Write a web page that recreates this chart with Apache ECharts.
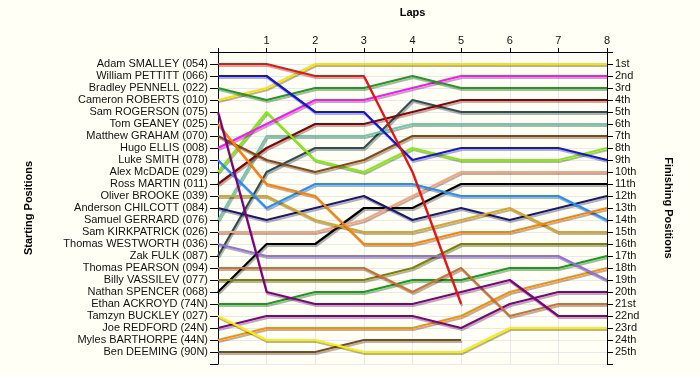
<!DOCTYPE html>
<html>
<head>
<meta charset="utf-8">
<script src="https://cdn.jsdelivr.net/npm/echarts@6/dist/echarts.min.js"></script>
<style>
html,body{margin:0;padding:0;background:#FFFFF5;}
#chart{width:700px;height:375px;}
</style>
</head>
<body>
<div id="chart"></div>
<script>
// Lap numbers
const laps = [0, 1, 2, 3, 4, 5, 6, 7, 8];

// Starting grid (left axis labels, position 1..25)
const startNames = [
  'Adam SMALLEY (054)', 'William PETTITT (066)', 'Bradley PENNELL (022)', 'Cameron ROBERTS (010)',
  'Sam ROGERSON (075)', 'Tom GEANEY (025)', 'Matthew GRAHAM (070)', 'Hugo ELLIS (008)',
  'Luke SMITH (078)', 'Alex McDADE (029)', 'Ross MARTIN (011)', 'Oliver BROOKE (039)',
  'Anderson CHILCOTT (084)', 'Samuel GERRARD (076)', 'Sam KIRKPATRICK (026)', 'Thomas WESTWORTH (036)',
  'Zak FULK (087)', 'Thomas PEARSON (094)', 'Billy VASSILEV (077)', 'Nathan SPENCER (068)',
  'Ethan ACKROYD (74N)', 'Tamzyn BUCKLEY (027)', 'Joe REDFORD (24N)', 'Myles BARTHORPE (44N)',
  'Ben DEEMING (90N)'
];

// Finishing positions (right axis labels)
const finishLabels = [
  '1st', '2nd', '3rd', '4th', '5th', '6th', '7th', '8th', '9th', '10th', '11th', '12th', '13th',
  '14th', '15th', '16th', '17th', '18th', '19th', '20th', '21st', '22nd', '23rd', '24th', '25th'
];

// Position of each driver at the end of each lap (lap 0 = grid)
const adamSmalley      = [1, 1, 2, 2, 10, 21];
const williamPettitt   = [2, 2, 5, 5, 9, 8, 8, 8, 9];
const bradleyPennell   = [3, 4, 3, 3, 2, 3, 3, 3, 3];
const cameronRoberts   = [4, 3, 1, 1, 1, 1, 1, 1, 1];
const samRogerson      = [5, 20, 21, 21, 21, 20, 19, 22, 22];
const tomGeaney        = [6, 11, 12, 16, 16, 15, 15, 14, 13];
const matthewGraham    = [7, 9, 10, 9, 7, 7, 7, 7, 7];
const hugoEllis        = [8, 6, 4, 4, 3, 2, 2, 2, 2];
const lukeSmith        = [9, 13, 11, 11, 11, 12, 12, 12, 14];
const alexMcdade       = [10, 5, 9, 10, 8, 9, 9, 9, 8];
const rossMartin       = [11, 8, 6, 6, 5, 4, 4, 4, 4];
const oliverBrooke     = [12, 12, 14, 15, 15, 14, 13, 15, 15];
const andersonChilcott = [13, 14, 13, 12, 14, 13, 14, 13, 12];
const samuelGerrard    = [14, 7, 7, 7, 6, 6, 6, 6, 6];
const samKirkpatrick   = [15, 15, 15, 14, 12, 10, 10, 10, 10];
const thomasWestworth  = [16, 17, 17, 17, 17, 17, 17, 17, 19];
const zakFulk          = [17, 10, 8, 8, 4, 5, 5, 5, 5];
const thomasPearson    = [18, 18, 18, 18, 20, 18, 22, 21, 21];
const billyVassilev    = [19, 19, 19, 19, 18, 16, 16, 16, 16];
const nathanSpencer    = [20, 16, 16, 13, 13, 11, 11, 11, 11];
const ethanAckroyd     = [21, 21, 20, 20, 19, 19, 18, 18, 17];
const tamzynBuckley    = [22, 24, 24, 25, 25, 25, 23, 23, 23];
const joeRedford       = [23, 22, 22, 22, 22, 23, 21, 20, 20];
const mylesBarthorpe   = [24, 23, 23, 23, 23, 22, 20, 19, 18];
const benDeeming       = [25, 25, 25, 24, 24, 24];

const drivers = [
  adamSmalley, williamPettitt, bradleyPennell, cameronRoberts, samRogerson, tomGeaney,
  matthewGraham, hugoEllis, lukeSmith, alexMcdade, rossMartin, oliverBrooke, andersonChilcott,
  samuelGerrard, samKirkpatrick, thomasWestworth, zakFulk, thomasPearson, billyVassilev,
  nathanSpencer, ethanAckroyd, tamzynBuckley, joeRedford, mylesBarthorpe, benDeeming
];

const palette = [
  '#E81414', '#1414D8', '#1E9A1E', '#FFE000', '#800080', '#FF8000',
  '#8B4513', '#FF10FF', '#2090FF', '#7FF000', '#8B0000', '#DAA520', '#191970',
  '#66CDAA', '#FFA07A', '#9370DB', '#2F4F4F', '#CD7030', '#808000',
  '#000000', '#10A010', '#FFEE00', '#800080', '#FF8C00', '#7A4A1A'
];

const series = [];
for (let i = drivers.length - 1; i >= 0; i--) {
  series.push({
    type: 'line',
    name: startNames[i],
    data: drivers[i].map((p, k) => [laps[k], p]),
    symbol: 'none',
    silent: true,
    animation: false,
    lineStyle: {
      color: palette[i],
      width: 2.2,
      shadowColor: 'rgba(0,0,0,0.30)',
      shadowOffsetX: 1,
      shadowOffsetY: 2,
      shadowBlur: 0
    }
  });
}

const labelFont = { fontFamily: 'Liberation Sans, Arial, sans-serif', fontSize: 11, color: '#111' };
const nameFont = { fontFamily: 'Liberation Sans, Arial, sans-serif', fontSize: 11, fontWeight: 'bold', color: '#000' };

const chart = echarts.init(document.getElementById('chart'), null, { renderer: 'canvas' });
chart.setOption({
  backgroundColor: '#FFFFF5',
  animation: false,
  grid: { left: 218, right: 93, top: 52, bottom: 11, containLabel: false },
  xAxis: {
    type: 'value', position: 'top', min: 0, max: 8, interval: 1,
    name: 'Laps', nameLocation: 'middle', nameGap: 34, nameTextStyle: nameFont,
    axisLine: { show: true, lineStyle: { color: '#000', width: 1 } },
    axisTick: { show: true, length: 4, lineStyle: { color: '#000' } },
    axisLabel: Object.assign({ margin: 6, formatter: v => (v === 0 ? '' : String(v)) }, labelFont),
    splitLine: { show: true, lineStyle: { color: '#E8E8E8', width: 1 } }
  },
  yAxis: [
    {
      type: 'value', position: 'left', inverse: true, min: 0, max: 26, interval: 1,
      name: 'Starting Positions', nameLocation: 'middle', nameGap: 184, nameRotate: 90,
      nameTextStyle: nameFont,
      axisLine: { show: true, lineStyle: { color: '#000', width: 1 } },
      axisTick: { show: true, length: 8, lineStyle: { color: '#000' } },
      axisLabel: Object.assign({ margin: 10, formatter: v => (v >= 1 && v <= 25 ? startNames[v - 1] : '') }, labelFont),
      splitLine: { show: true, lineStyle: { color: '#E8E8E8', width: 1 } }
    },
    {
      type: 'value', position: 'right', inverse: true, min: 0, max: 26, interval: 1,
      name: 'Finishing Positions', nameLocation: 'middle', nameGap: 56, nameRotate: -90,
      nameTextStyle: nameFont,
      axisLine: { show: true, lineStyle: { color: '#000', width: 1 } },
      axisTick: { show: true, length: 6, lineStyle: { color: '#000' } },
      axisLabel: Object.assign({ margin: 8, formatter: v => (v >= 1 && v <= 25 ? finishLabels[v - 1] : '') }, labelFont),
      splitLine: { show: false }
    }
  ],
  series: series
});
</script>
</body>
</html>
